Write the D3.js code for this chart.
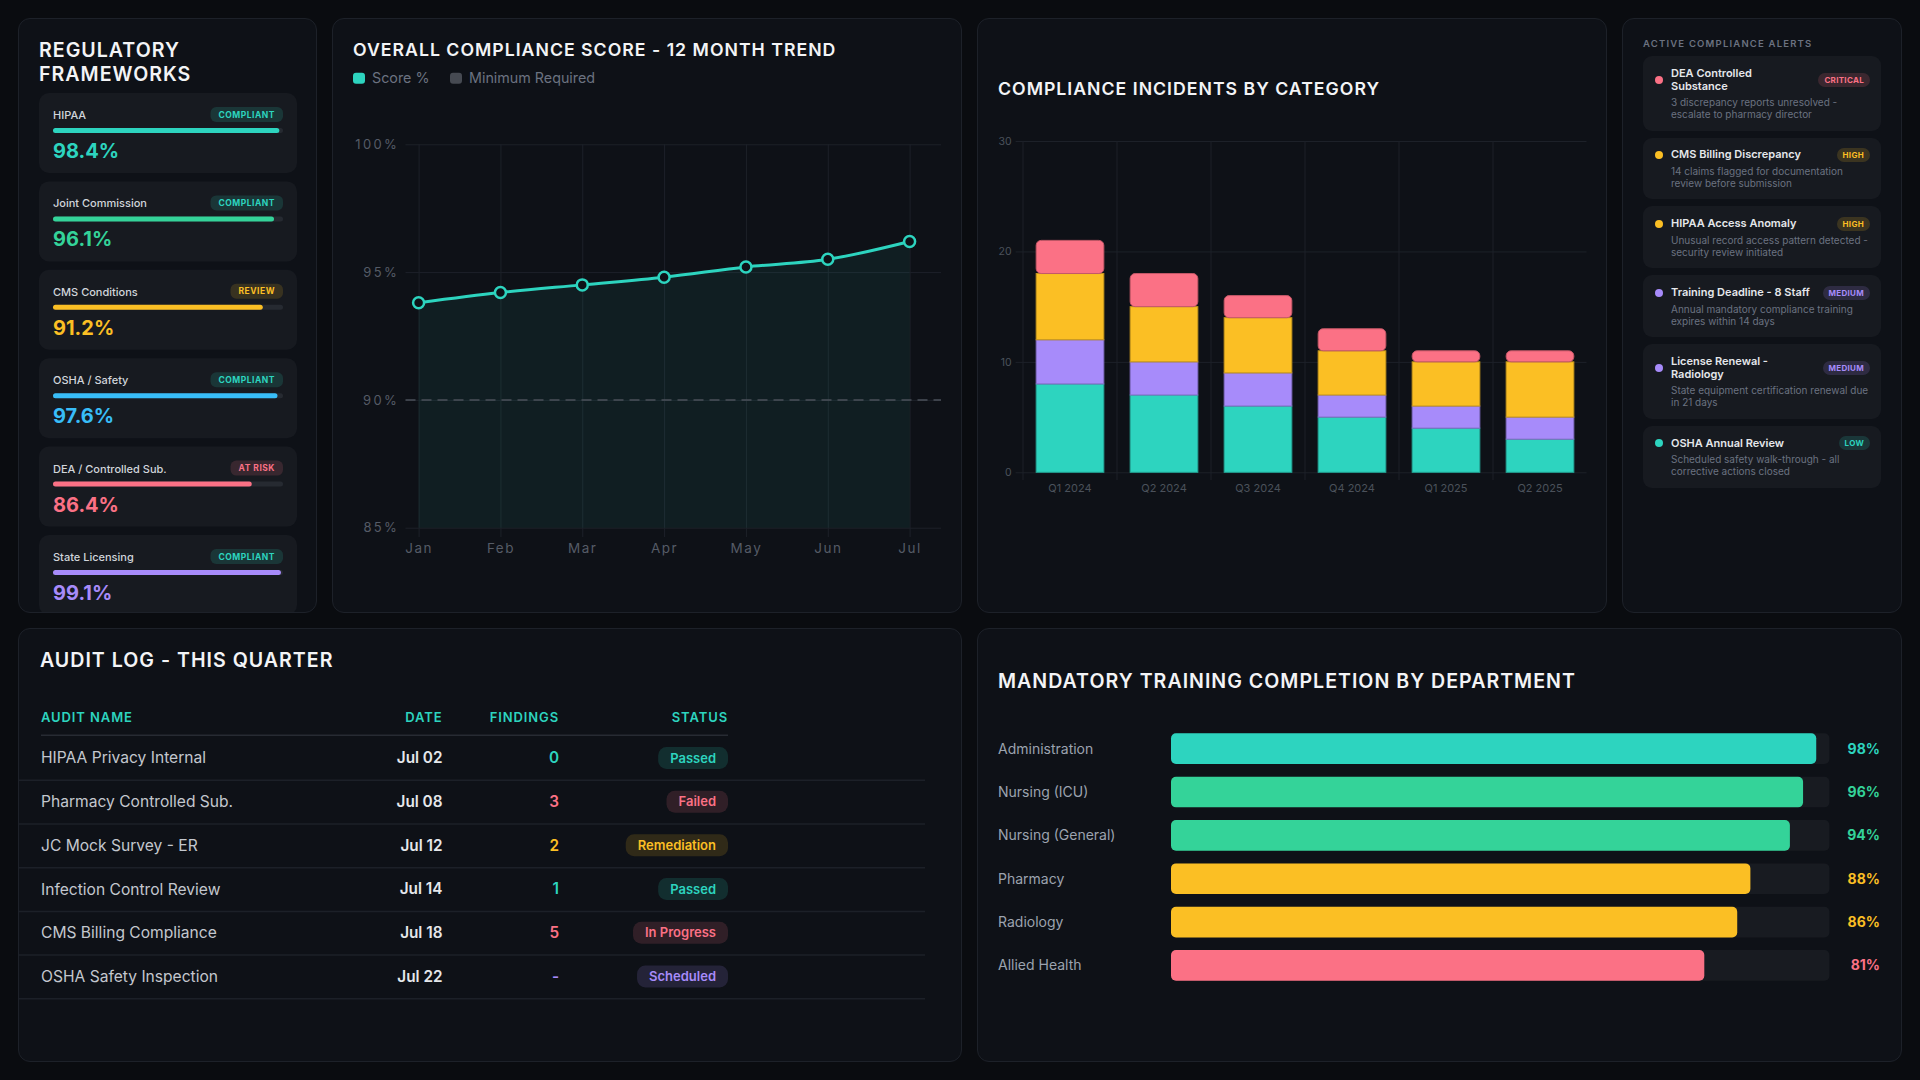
<!DOCTYPE html>
<html>
<head>
<meta charset="UTF-8">
<title>Compliance dashboard</title>
<script src="https://d3js.org/d3.v7.min.js"></script>
<style>
body { margin: 0; background: #0a0c10; font-family: Inter, "Noto Sans", sans-serif; }
#page { position: relative; width: 1920px; height: 1080px; overflow: hidden; }
.panel { position: absolute; box-sizing: border-box; background: #0e1117; border: 1px solid #1d2129; border-radius: 12px; overflow: hidden; }
.panel svg { position: absolute; left: -1px; top: -1px; }
svg text { font-family: Inter, "Noto Sans", sans-serif; }
.title { fill: #f3f4f6; font-size: 17.7px; font-weight: 600; letter-spacing: 1px; }
.title.big { font-size: 19.6px; }
.alert-head { position: absolute; left: 20px; top: 19px; font-size: 9.5px; font-weight: 600; letter-spacing: 1.2px; color: #6b7280; line-height: 12px; }
.alerts { position: absolute; left: 20px; top: 37px; width: 238px; display: flex; flex-direction: column; gap: 7px; }
.alert { background: #171a20; border-radius: 9px; padding: 10.5px 11px 10px 12px; }
.alert .head { display: flex; align-items: center; }
.alert .dot { width: 8px; height: 8px; border-radius: 50%; flex: none; margin-right: 8px; }
.alert .name { flex: 0 1 auto; max-width: 139px; font-size: 11px; font-weight: 600; color: #e5e7eb; line-height: 13.3px; }
.alert .lvl { flex: none; font-size: 8px; font-weight: 700; letter-spacing: 0.3px; height: 14px; line-height: 14px; padding: 0 6px; border-radius: 7px; margin-left: auto; }
.alert .desc { margin: 4px 0 0 16px; font-size: 10px; line-height: 11.7px; color: #6b7280; }
</style>
</head>
<body>
<div id="page"></div>

<script>

/* Data */
var frameworks = ["HIPAA", "Joint Commission", "CMS Conditions", "OSHA / Safety", "DEA / Controlled Sub.", "State Licensing"];
var frameworkScores = [98.4, 96.1, 91.2, 97.6, 86.4, 99.1];
var frameworkStatus = ["COMPLIANT", "COMPLIANT", "REVIEW", "COMPLIANT", "AT RISK", "COMPLIANT"];

var months = ["Jan", "Feb", "Mar", "Apr", "May", "Jun", "Jul"];
var scores = [93.8, 94.2, 94.5, 94.8, 95.2, 95.5, 96.2];
var minRequired = 90;
var scoreTicks = [85, 90, 95, 100];

var quarters = ["Q1 2024", "Q2 2024", "Q3 2024", "Q4 2024", "Q1 2025", "Q2 2025"];
var incidentSeries = ["Documentation", "Privacy", "Billing", "Controlled Substances"];
var documentation = [8, 7, 6, 5, 4, 3];
var privacy = [4, 3, 3, 2, 2, 2];
var billing = [6, 5, 5, 4, 4, 5];
var controlled = [3, 3, 2, 2, 1, 1];
var incidentTicks = [0, 10, 20, 30];

var alertTitles = ["DEA Controlled Substance", "CMS Billing Discrepancy", "HIPAA Access Anomaly",
	"Training Deadline - 8 Staff", "License Renewal - Radiology", "OSHA Annual Review"];
var alertDescs = ["3 discrepancy reports unresolved - escalate to pharmacy director",
	"14 claims flagged for documentation review before submission",
	"Unusual record access pattern detected - security review initiated",
	"Annual mandatory compliance training expires within 14 days",
	"State equipment certification renewal due in 21 days",
	"Scheduled safety walk-through - all corrective actions closed"];
var alertLevels = ["CRITICAL", "HIGH", "HIGH", "MEDIUM", "MEDIUM", "LOW"];

var auditNames = ["HIPAA Privacy Internal", "Pharmacy Controlled Sub.", "JC Mock Survey - ER",
	"Infection Control Review", "CMS Billing Compliance", "OSHA Safety Inspection"];
var auditDates = ["Jul 02", "Jul 08", "Jul 12", "Jul 14", "Jul 18", "Jul 22"];
var auditFindings = ["0", "3", "2", "1", "5", "-"];
var auditStatus = ["Passed", "Failed", "Remediation", "Passed", "In Progress", "Scheduled"];

var departments = ["Administration", "Nursing (ICU)", "Nursing (General)", "Pharmacy", "Radiology", "Allied Health"];
var completion = [98, 96, 94, 88, 86, 81];

/* Colours */
var teal = '#2dd4bf', green = '#34d399', yellow = '#fbbf24', blue = '#38bdf8', pink = '#fb7185', purple = '#a78bfa';
var frameworkColor = [teal, green, yellow, blue, pink, purple];
var statusColor = { "COMPLIANT": teal, "REVIEW": yellow, "AT RISK": pink };
var seriesColor = [teal, purple, yellow, pink];
var levelColor = { "CRITICAL": pink, "HIGH": yellow, "MEDIUM": purple, "LOW": teal };
var findingColor = [teal, pink, yellow, teal, pink, purple];
var auditColor = { "Passed": teal, "Failed": pink, "Remediation": yellow, "In Progress": pink, "Scheduled": purple };
var deptColor = [teal, green, green, yellow, yellow, pink];
var axisGrey = '#555b66', gridColor = '#1d2129';

/* Helpers */
function panel(x, y, w, h) {
	return d3.select('#page').append('div')
		.attr('class', 'panel')
		.style('left', x + 'px').style('top', y + 'px')
		.style('width', w + 'px').style('height', h + 'px');
}

function tint(c, a) {
	var col = d3.color(c); col.opacity = a; return col + '';
}

// pill with its right edge at xr, centred on yc
function pill(g, label, xr, yc, h, size, padX, color, spacing, weight) {
	var p = g.append('g');
	var r = p.append('rect');
	var t = p.append('text')
		.attr('font-size', size).attr('font-weight', weight || 700)
		.attr('letter-spacing', spacing || 0)
		.attr('fill', color).attr('text-anchor', 'middle')
		.attr('dy', '0.36em')
		.text(label);
	var w = t.node().getComputedTextLength() + 2 * padX;
	r.attr('x', xr - w).attr('y', yc - h / 2).attr('width', w).attr('height', h)
		.attr('rx', h / 2.6).attr('fill', tint(color, 0.15));
	t.attr('x', xr - w / 2).attr('y', yc);
}

/* Regulatory frameworks */
function draw_frameworks() {
	var s = panel(18, 18, 299, 595).append('svg').attr('width', 299).attr('height', 595);
	s.append('text').attr('class', 'title big')
		.selectAll('tspan').data(["REGULATORY", "FRAMEWORKS"]).join('tspan')
		.attr('x', 21).attr('y', function(d, i) { return 38.7 + i * 24.3; })
		.text(function(d) { return d; });

	var bar = d3.scaleLinear().domain([0, 100]).range([0, 230]);
	var cards = s.selectAll('g.card').data(frameworks).join('g')
		.attr('class', 'card')
		.attr('transform', function(d, i) { return 'translate(21,' + (75 + i * 88.4) + ')'; });
	cards.append('rect').attr('width', 258).attr('height', 80).attr('rx', 10).attr('fill', '#171a20');
	cards.append('text').attr('x', 14).attr('y', 26).attr('font-size', 11).attr('font-weight', 500)
		.attr('fill', '#d1d5db').text(function(d) { return d; });
	cards.append('rect').attr('x', 14).attr('y', 35).attr('width', bar(100)).attr('height', 5)
		.attr('rx', 2.5).attr('fill', '#262a31');
	cards.append('rect').attr('x', 14).attr('y', 35).attr('height', 5).attr('rx', 2.5)
		.attr('width', function(d, i) { return bar(frameworkScores[i]); })
		.attr('fill', function(d, i) { return frameworkColor[i]; });
	cards.append('text').attr('x', 14).attr('y', 65).attr('font-size', 20).attr('font-weight', 700)
		.attr('fill', function(d, i) { return frameworkColor[i]; })
		.text(function(d, i) { return frameworkScores[i].toFixed(1) + '%'; });
	cards.each(function(d, i) {
		pill(d3.select(this), frameworkStatus[i], 244, 21.5, 15, 8.5, 8, statusColor[frameworkStatus[i]], 0.5);
	});
}

/* Score trend */
function draw_trend() {
	var s = panel(332, 18, 630, 595).append('svg').attr('width', 630).attr('height', 595);
	s.append('text').attr('class', 'title').attr('x', 21).attr('y', 37.7)
		.text("OVERALL COMPLIANCE SCORE - 12 MONTH TREND");

	var legend = [["Score %", teal], ["Minimum Required", '#464a52']];
	var lx = [21, 118];
	legend.forEach(function(l, i) {
		s.append('rect').attr('x', lx[i]).attr('y', 54.7).attr('width', 12).attr('height', 11).attr('rx', 3).attr('fill', l[1]);
		s.append('text').attr('x', lx[i] + 19).attr('y', 65.3).attr('font-size', 14.3).attr('fill', '#6b7280').text(l[0]);
	});

	var x = d3.scalePoint().domain(months).range([86.6, 577.6]);
	var y = d3.scaleLinear().domain([85, 100]).range([509.7, 126.3]);

	var ya = s.append('g').attr('transform', 'translate(73.5,0)')
		.call(d3.axisLeft(y).tickValues(scoreTicks).tickSize(-(609 - 73.5)).tickPadding(6.5)
			.tickFormat(function(d) { return d + '%'; }));
	var xa = s.append('g').attr('transform', 'translate(0,519)')
		.call(d3.axisBottom(x).tickSize(-(519 - 126.3)).tickPadding(6.8));
	[ya, xa].forEach(function(a) {
		a.select('.domain').remove();
		a.selectAll('line').attr('stroke', gridColor);
		a.attr('font-family', null).attr('font-size', null);
	});
	ya.selectAll('text').attr('font-size', 13).attr('letter-spacing', 2.3).attr('fill', axisGrey);
	xa.selectAll('text').attr('font-size', 13.5).attr('letter-spacing', 1.5).attr('fill', axisGrey);

	s.append('path').datum(scores)
		.attr('fill', tint(teal, 0.07))
		.attr('d', d3.area().curve(d3.curveMonotoneX)
			.x(function(d, i) { return x(months[i]); }).y0(y(85)).y1(function(d) { return y(d); }));

	s.append('line').attr('x1', 73.5).attr('x2', 609).attr('y1', y(minRequired)).attr('y2', y(minRequired))
		.attr('stroke', '#4b5059').attr('stroke-width', 1.5).attr('stroke-dasharray', '10,6');

	s.append('path').datum(scores)
		.attr('fill', 'none').attr('stroke', teal).attr('stroke-width', 3)
		.attr('d', d3.line().curve(d3.curveMonotoneX)
			.x(function(d, i) { return x(months[i]); }).y(function(d) { return y(d); }));

	s.selectAll('circle').data(scores).join('circle')
		.attr('cx', function(d, i) { return x(months[i]); })
		.attr('cy', function(d) { return y(d); })
		.attr('r', 5.5).attr('fill', '#0e1117').attr('stroke', teal).attr('stroke-width', 2.5);
}

/* Incidents */
function draw_incidents() {
	var s = panel(977, 18, 630, 595).append('svg').attr('width', 630).attr('height', 595);
	s.append('text').attr('class', 'title').attr('x', 21).attr('y', 77)
		.text("COMPLIANCE INCIDENTS BY CATEGORY");

	var rows = quarters.map(function(q, i) {
		var r = { quarter: q };
		r[incidentSeries[0]] = documentation[i];
		r[incidentSeries[1]] = privacy[i];
		r[incidentSeries[2]] = billing[i];
		r[incidentSeries[3]] = controlled[i];
		return r;
	});
	var stacked = d3.stack().keys(incidentSeries)(rows);

	var x = d3.scaleBand().domain(quarters).range([46, 610]).paddingInner(0.28).paddingOuter(0.14);
	var y = d3.scaleLinear().domain([0, 30]).range([454.3, 123]);

	var ya = s.append('g').attr('transform', 'translate(38.6,0)')
		.call(d3.axisLeft(y).tickValues(incidentTicks).tickSize(-(609.5 - 38.6)).tickPadding(4));
	ya.select('.domain').remove();
	ya.attr('font-family', null).attr('font-size', null);
	ya.selectAll('line').attr('stroke', gridColor);
	ya.selectAll('text').attr('font-size', 10.5).attr('fill', '#4b515b');

	var gap = (x.step() - x.bandwidth()) / 2;
	s.append('g').selectAll('line').data(quarters).join('line')
		.attr('x1', function(d) { return x(d) - gap; }).attr('x2', function(d) { return x(d) - gap; })
		.attr('y1', 123).attr('y2', 462).attr('stroke', gridColor);

	var xa = s.append('g').attr('transform', 'translate(0,462)')
		.call(d3.axisBottom(x).tickSize(0).tickPadding(4.5));
	xa.select('.domain').remove();
	xa.attr('font-family', null).attr('font-size', null);
	xa.selectAll('text').attr('font-size', 11).attr('fill', '#4b515b');

	s.append('g').selectAll('g').data(stacked).join('g')
		.attr('fill', function(d, i) { return seriesColor[i]; })
		.attr('stroke', function(d, i) { return d3.color(seriesColor[i]).darker(0.7); })
		.each(function(ser, si) {
			d3.select(this).selectAll('rect').data(ser).join('rect')
				.attr('x', function(d) { return x(d.data.quarter); })
				.attr('y', function(d) { return y(d[1]); })
				.attr('width', x.bandwidth())
				.attr('height', function(d) { return y(d[0]) - y(d[1]); })
				.attr('rx', si === 3 ? 5 : 0)
				.attr('stroke-width', 1);
		});
}

/* Alerts */
function draw_alerts() {
	var p = panel(1622, 18, 280, 595);
	p.append('div').attr('class', 'alert-head').text("ACTIVE COMPLIANCE ALERTS");
	var cards = p.append('div').attr('class', 'alerts')
		.selectAll('div').data(alertTitles).join('div').attr('class', 'alert');
	var head = cards.append('div').attr('class', 'head');
	head.append('div').attr('class', 'dot').style('background', function(d, i) { return levelColor[alertLevels[i]]; });
	head.append('div').attr('class', 'name').text(function(d) { return d; });
	head.append('div').attr('class', 'lvl')
		.style('color', function(d, i) { return levelColor[alertLevels[i]]; })
		.style('background', function(d, i) { return tint(levelColor[alertLevels[i]], 0.16); })
		.text(function(d, i) { return alertLevels[i]; });
	cards.append('div').attr('class', 'desc').text(function(d, i) { return alertDescs[i]; });
}

/* Audit log */
function draw_audits() {
	var s = panel(18, 628, 944, 434).append('svg').attr('width', 944).attr('height', 434);
	s.append('text').attr('class', 'title big').attr('x', 22).attr('y', 38.5)
		.text("AUDIT LOG - THIS QUARTER");

	var cols = [["AUDIT NAME", 23, 'start'], ["DATE", 424.5, 'end'], ["FINDINGS", 541, 'end'], ["STATUS", 710, 'end']];
	s.append('g').selectAll('text').data(cols).join('text')
		.attr('x', function(d) { return d[1]; }).attr('y', 93.7)
		.attr('text-anchor', function(d) { return d[2]; })
		.attr('font-size', 13).attr('font-weight', 600).attr('letter-spacing', 0.9)
		.attr('fill', teal).text(function(d) { return d[0]; });
	s.append('line').attr('x1', 23).attr('x2', 710).attr('y1', 107.3).attr('y2', 107.3)
		.attr('stroke', '#272b33').attr('stroke-width', 1.5);

	var y = d3.scaleBand().domain(auditNames).range([108.6, 108.6 + 6 * 43.7]);
	var rows = s.selectAll('g.row').data(auditNames).join('g').attr('class', 'row')
		.attr('transform', function(d) { return 'translate(0,' + (y(d) + y.bandwidth() / 2) + ')'; });
	rows.append('line').attr('x1', 0).attr('x2', 907)
		.attr('y1', y.bandwidth() / 2).attr('y2', y.bandwidth() / 2)
		.attr('stroke', '#1c2028').attr('stroke-width', 1.5);
	rows.append('text').attr('x', 23).attr('dy', '0.32em').attr('font-size', 15.6)
		.attr('fill', '#c3c7ce').text(function(d) { return d; });
	rows.append('text').attr('x', 424.5).attr('dy', '0.32em').attr('text-anchor', 'end')
		.attr('font-size', 15.3).attr('font-weight', 600).attr('fill', '#e5e7eb')
		.text(function(d, i) { return auditDates[i]; });
	rows.append('text').attr('x', 541).attr('dy', '0.32em').attr('text-anchor', 'end')
		.attr('font-size', 15.3).attr('font-weight', 600)
		.attr('fill', function(d, i) { return findingColor[i]; })
		.text(function(d, i) { return auditFindings[i]; });
	rows.each(function(d, i) {
		pill(d3.select(this), auditStatus[i], 710, -0.5, 22, 13, 12, auditColor[auditStatus[i]], 0, 600);
	});
}

/* Training */
function draw_training() {
	var s = panel(977, 628, 925, 434).append('svg').attr('width', 925).attr('height', 434);
	s.append('text').attr('class', 'title big').attr('x', 21).attr('y', 59.5)
		.text("MANDATORY TRAINING COMPLETION BY DEPARTMENT");

	var x = d3.scaleLinear().domain([0, 100]).range([194, 852.4]);
	var y = d3.scaleBand().domain(departments).range([99, 359.1]).paddingInner(0.292).paddingOuter(0.146);

	var rows = s.selectAll('g.row').data(departments).join('g').attr('class', 'row')
		.attr('transform', function(d) { return 'translate(0,' + y(d) + ')'; });
	rows.append('rect').attr('x', x(0)).attr('width', x(100) - x(0)).attr('height', y.bandwidth())
		.attr('rx', 5).attr('fill', '#181b21');
	rows.append('rect').attr('x', x(0)).attr('height', y.bandwidth()).attr('rx', 5)
		.attr('width', function(d, i) { return x(completion[i]) - x(0); })
		.attr('fill', function(d, i) { return deptColor[i]; });
	rows.append('text').attr('x', 21).attr('y', y.bandwidth() / 2).attr('dy', '0.35em')
		.attr('font-size', 14).attr('fill', '#9ca3af').text(function(d) { return d; });
	rows.append('text').attr('x', 903).attr('y', y.bandwidth() / 2).attr('dy', '0.35em')
		.attr('text-anchor', 'end').attr('font-size', 14).attr('font-weight', 700)
		.attr('fill', function(d, i) { return deptColor[i]; })
		.text(function(d, i) { return completion[i] + '%'; });
}

/* Main code */
draw_frameworks()
draw_trend()
draw_incidents()
draw_alerts()
draw_audits()
draw_training()

</script>
</body>
</html>
